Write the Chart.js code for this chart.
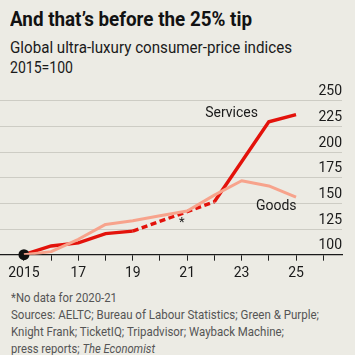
<!DOCTYPE html>
<html>
<head>
<meta charset="utf-8">
<script src="https://cdn.jsdelivr.net/npm/chart.js@4/dist/chart.umd.min.js"></script>
<style>
  html, body { margin: 0; padding: 0; }
  body { width: 355px; height: 355px; background: #ecebe4; position: relative; overflow: hidden; font-family: Roboto, sans-serif; color: #1a1a1a; }
  .t { position: absolute; white-space: nowrap; transform-origin: left center; }
  #title { left: 10px; font-weight: 700; font-size: 20px; line-height: 24px; top: 7px; color: #121212; }
  #sub { left: 10px; font-size: 16.5px; line-height: 20px; top: 38px; color: #1a1a1a; }
  #base { left: 10px; font-size: 16.5px; line-height: 20px; top: 58px; color: #1a1a1a; }
  .fn { left: 11px; font-size: 13.5px; line-height: 16px; color: #555; }
  #chartwrap { position: absolute; left: 0; top: 84px; width: 355px; height: 204px; }
  #chartwrap canvas { display: block; }
</style>
</head>
<body>
<div class="t" id="title" data-w="242">And that’s before the 25% tip</div>
<div class="t" id="sub" data-w="282">Global ultra-luxury consumer-price indices</div>
<div class="t" id="base" data-w="63">2015=100</div>
<div id="chartwrap"><canvas id="c" width="355" height="204"></canvas></div>
<div class="t fn" style="top:288.5px" data-w="106">*No data for 2020-21</div>
<div class="t fn" style="top:305.5px" data-w="308">Sources: AELTC; Bureau of Labour Statistics; Green &amp; Purple;</div>
<div class="t fn" style="top:323px" data-w="273">Knight Frank; TicketIQ; Tripadvisor; Wayback Machine;</div>
<div class="t fn" style="top:339.5px" data-w="144">press reports; <i>The Economist</i></div>
<script>
// ---- data ----
const years = [2015, 2016, 2017, 2018, 2019, 2020, 2021, 2022, 2023, 2024, 2025];
const services = [100, 108.5, 111.5, 120.5, 123, null, null, 151.5, 190.5, 229.5, 236.5];
const goods = [100, 103, 115, 129.5, 133, 138, 142.5, 158, 172, 167, 156];
const yTicks = [100, 125, 150, 175, 200, 225, 250];
const xTickYears = [2015, 2016, 2017, 2018, 2019, 2020, 2021, 2022, 2023, 2024, 2025, 2026];
const xLabelYears = [2015, 2017, 2019, 2021, 2023, 2025];

// fit text widths
document.querySelectorAll('[data-w]').forEach(el => {
  const w = el.getBoundingClientRect().width;
  const target = parseFloat(el.dataset.w);
  el.style.transform = 'scaleX(' + (target / w) + ')';
});

const RED = '#e3120b';
const PINK = '#f7a38c';

const labelsPlugin = {
  id: 'labels',
  afterDatasetsDraw(chart) {
    const { ctx, scales: { x, y } } = chart;
    ctx.save();
    ctx.fillStyle = '#1a1a1a';
    ctx.font = '14px Roboto, sans-serif';
    ctx.textBaseline = 'middle';
    ctx.textAlign = 'right';
    ctx.fillText('Services', x.getPixelForValue(2023.6), y.getPixelForValue(237.7));
    ctx.fillText('Goods', x.getPixelForValue(2025.02), y.getPixelForValue(146.7));
    ctx.textAlign = 'center';
    ctx.font = '13px Roboto, sans-serif';
    ctx.fillText('*', x.getPixelForValue(2020.8), y.getPixelForValue(131));
    ctx.restore();
  }
};

new Chart(document.getElementById('c'), {
  type: 'line',
  data: {
    datasets: [
      {
        label: 'Goods',
        data: years.map((yr, i) => ({ x: yr, y: goods[i] })),
        borderColor: PINK,
        borderWidth: 3,
        pointRadius: 0,
        tension: 0,
        borderJoinStyle: 'round'
      },
      {
        label: 'Services',
        data: years.map((yr, i) => ({ x: yr, y: services[i] })),
        borderColor: RED,
        borderWidth: 3.4,
        spanGaps: true,
        clip: false,
        tension: 0,
        borderJoinStyle: 'miter',
        pointRadius: ctx => ctx.dataIndex === 0 ? 5.5 : 0,
        pointBackgroundColor: '#111',
        pointBorderWidth: 0,
        segment: {
          borderDash: ctx => (ctx.p0.skip || ctx.p1.skip) ? [6, 3.5] : undefined
        }
      }
    ]
  },
  options: {
    responsive: false,
    animation: false,
    events: [],
    layout: { autoPadding: false, padding: { top: 16.7, right: 13, left: 0, bottom: 0 } },
    plugins: { legend: { display: false }, tooltip: { enabled: false } },
    scales: {
      x: {
        type: 'linear',
        min: 2014.12,
        max: 2026.69,
        afterBuildTicks: s => { s.ticks = xTickYears.map(v => ({ value: v })); },
        afterFit: s => { s.height = 33.3; s.paddingLeft = 0; s.paddingRight = 0; },
        grid: { drawOnChartArea: false, drawTicks: true, tickLength: 6, color: '#222', lineWidth: 1 },
        border: { display: true, color: '#1a1a1a', width: 1.3 },
        ticks: {
          padding: 4,
          maxRotation: 0,
          autoSkip: false,
          color: '#1a1a1a',
          font: { family: 'Roboto', size: 14 },
          callback: v => xLabelYears.includes(v) ? (v === 2015 ? '2015' : String(v).slice(2)) : ''
        }
      },
      y: {
        position: 'right',
        min: 100,
        max: 250,
        afterBuildTicks: s => { s.ticks = yTicks.map(v => ({ value: v })); },
        afterFit: s => { s.paddingTop = 0; s.paddingBottom = 0; },
        grid: { drawTicks: false, color: '#cdccc4', lineWidth: 1 },
        border: { display: false },
        ticks: {
          mirror: true,
          padding: 0,
          labelOffset: -9,
          color: '#1a1a1a',
          font: { family: 'Roboto', size: 14 },
          callback: v => String(v)
        }
      }
    }
  },
  plugins: [labelsPlugin]
});
</script>
</body>
</html>
